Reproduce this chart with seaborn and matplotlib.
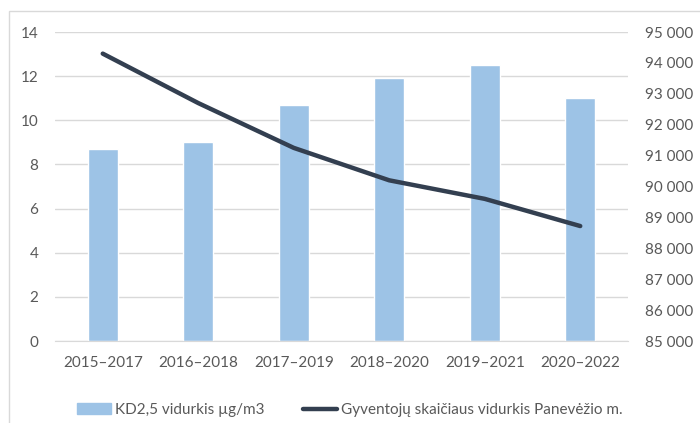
import numpy as np
import pandas as pd
import matplotlib.pyplot as plt
import seaborn as sns
from matplotlib.patches import Rectangle
from matplotlib.lines import Line2D
from matplotlib.ticker import FuncFormatter

# Data
periods = ['2015–2017', '2016–2018', '2017–2019', '2018–2020', '2019–2021', '2020–2022']
pm25 = [8.7, 9.0, 10.7, 11.9, 12.5, 11.0]
population = [94300, 92700, 91250, 90200, 89600, 88720]

df = pd.DataFrame({'period': periods, 'pm25': pm25, 'population': population})
df['pos'] = np.arange(len(df))

sns.set_style('white')
plt.rcParams['font.family'] = ['Lato', 'DejaVu Sans']

bar_color = '#9DC3E6'
line_color = '#333F50'
text_color = '#595959'
grid_color = '#D9D9D9'

fig = plt.figure(figsize=(7, 4.23), dpi=100)
ax = fig.add_axes([55 / 700, 1 - 341 / 423, 573 / 700, 309 / 423])

# Bars (left axis)
sns.barplot(data=df, x='period', y='pm25', color=bar_color, width=0.31,
            saturation=1, ax=ax, zorder=2)
ax.set_ylim(0, 14)
ax.set_yticks(range(0, 15, 2))
ax.set_xlim(-0.5, len(periods) - 0.5)
ax.grid(axis='y', color=grid_color, linewidth=1, zorder=0)
ax.set_axisbelow(True)
ax.set_xlabel('')
ax.set_ylabel('')
for s in ['top', 'right', 'left']:
    ax.spines[s].set_visible(False)
ax.spines['bottom'].set_color(grid_color)
ax.tick_params(axis='both', length=0, labelsize=11, colors=text_color)
ax.tick_params(axis='y', pad=12)
ax.tick_params(axis='x', pad=11)

# Line (right axis)
ax2 = ax.twinx()
sns.lineplot(data=df, x='pos', y='population', color=line_color, linewidth=3.2,
             ax=ax2, solid_capstyle='round', solid_joinstyle='round')
ax2.set_ylim(85000, 95000)
ax2.set_yticks(range(85000, 95001, 1000))
ax2.yaxis.set_major_formatter(FuncFormatter(lambda v, p: f'{int(v):,}'.replace(',', ' ')))
ax2.set_xlim(-0.5, len(periods) - 0.5)
ax2.set_ylabel('')
ax2.set_xlabel('')
for s in ax2.spines.values():
    s.set_visible(False)
ax2.tick_params(axis='y', length=0, labelsize=11, colors=text_color, pad=12)

# Legend
handles = [Rectangle((0, 0), 1, 1, color=bar_color),
           Line2D([0], [0], color=line_color, linewidth=3.2)]
labels = ['KD2,5 vidurkis µg/m3', 'Gyventojų skaičiaus vidurkis Panevėžio m.']
fig.legend(handles, labels, loc='center', bbox_to_anchor=(0.5, 1 - 410 / 423),
           ncol=2, frameon=False, fontsize=11, labelcolor=text_color,
           handlelength=2.2, handletextpad=0.3, columnspacing=2.5)

# Chart border
fig.patches.append(Rectangle((9 / 700, -0.05), 1.1, 1 - 11 / 423 + 0.05,
                             transform=fig.transFigure, fill=False,
                             edgecolor=grid_color, linewidth=1))

fig.savefig('out.png', dpi=100)
